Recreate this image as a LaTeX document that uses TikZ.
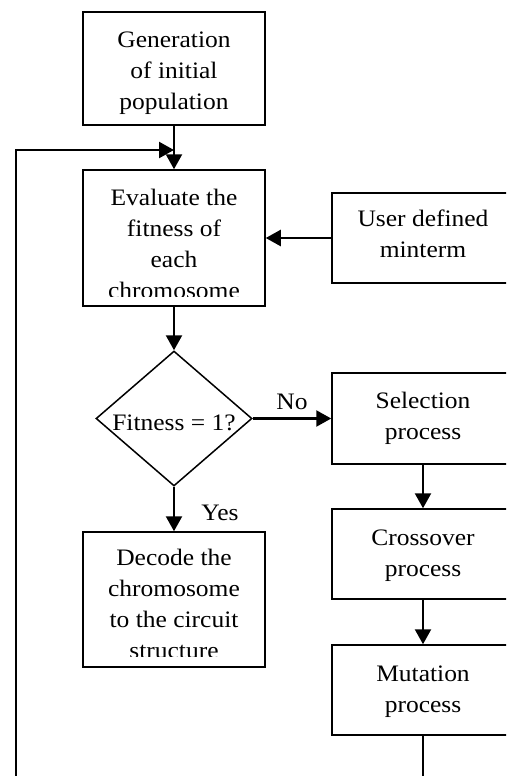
\documentclass[tikz,border=0pt]{standalone}
\usepackage{fontspec}
\setmainfont{Liberation Serif}[FakeStretch=1.08]
\usetikzlibrary{arrows.meta,shapes.geometric}
\tikzset{
  box/.style={draw, line width=1.5pt, minimum width=182pt, inner sep=0pt},
  lbl/.style={inner sep=0pt, align=center, font=\fontsize{23.6}{31}\selectfont},
  flow/.style={line width=2.3pt, -{Triangle[width=16pt,length=15pt]}},
}
\begin{document}
\begin{tikzpicture}[x=1pt,y=-1pt]
\useasboundingbox (0,0) rectangle (506,776);
\clip (0,0) rectangle (506,776);

% boxes
\node[box, minimum height=113pt] (gen)    at (174,68.5)  {};
\node[box, minimum height=136pt] (eval)   at (174,238)   {};
\node[box, minimum height=90pt]  (user)   at (423,238)   {};
\node[draw, diamond, line width=1.5pt, minimum width=156pt, minimum height=135pt, inner sep=0pt] (dec) at (174,418.5) {};
\node[box, minimum height=91pt]  (sel)    at (423,418.5) {};
\node[box, minimum height=90pt]  (cross)  at (423,554)   {};
\node[box, minimum height=90pt]  (mut)    at (423,690)   {};
\node[box, minimum height=135pt] (decode) at (174,599.5) {};

% texts
\node[lbl] (tgen) at (174,72.8) {Generation\\of initial\\population};
\begin{scope}
  \clip ([yshift=10.5pt]eval.south west) rectangle (eval.north east);
  \node[lbl] (teval) at (174,243.5) {Evaluate the\\fitness of\\each\\chromosome};
\end{scope}
\node[lbl] (tuser) at (423,234.2) {User defined\\minterm};
\node[lbl, anchor=base] (tfit) at (174,430) {Fitness = 1?};
\node[lbl] (tsel) at (423,418) {Selection\\process};
\node[lbl] (tcross) at (423,556) {Crossover\\process};
\node[lbl] (tmut) at (423,692) {Mutation\\process};
\begin{scope}
  \clip ([yshift=11pt]decode.south west) rectangle (decode.north east);
  \node[lbl] (tdecode) at (174,604) {Decode the\\chromosome\\to the circuit\\structure};
\end{scope}

% connectors
\coordinate (join) at (174,150);
\coordinate (loopbot) at (16,800);
\draw[flow] (gen.south) -- (eval.north);
\draw[flow] (user.west) -- (eval.east);
\draw[flow] (eval.south) -- (dec.north);
\draw[flow] (dec.east) -- node[lbl, above=8pt] (no) {No} (sel.west);
\draw[flow] (dec.south) -- (decode.north);
\node[lbl, anchor=base] (yes) at (220,520) {Yes};
\draw[flow] (sel.south) -- (cross.north);
\draw[flow] (cross.south) -- (mut.north);
\draw[flow] (mut.south) |- (loopbot) |- (join);
\end{tikzpicture}
\end{document}
